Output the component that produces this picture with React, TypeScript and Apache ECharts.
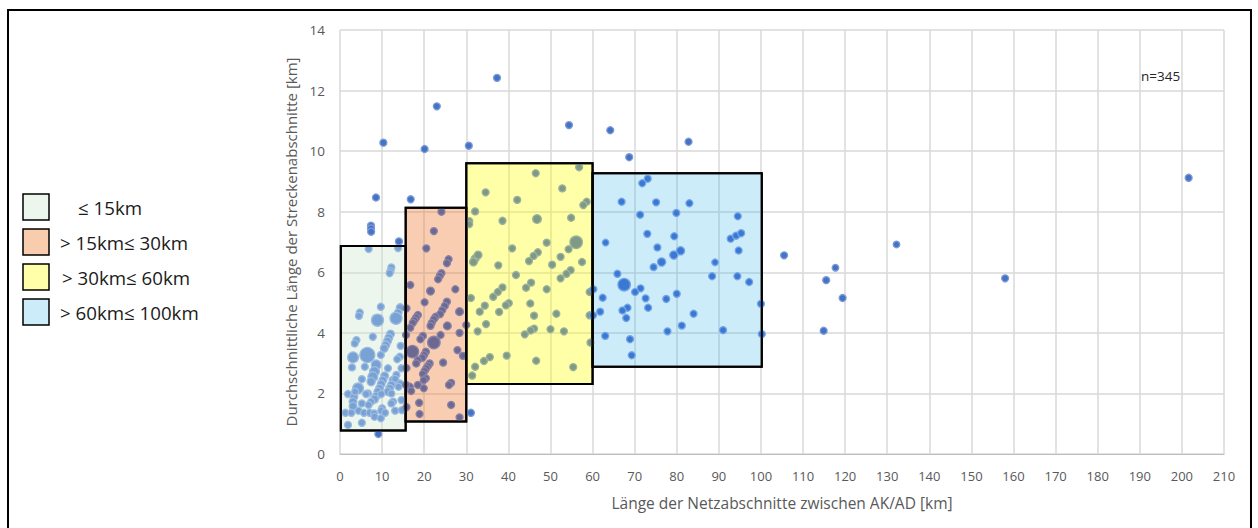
import React, { useEffect, useRef } from "react";
import * as echarts from "echarts";

// ---- Data ----
const legendLabels = ["≤ 15km", "> 15km≤ 30km", "> 30km≤ 60km", "> 60km≤ 100km"];
// Box ranges (x from/to, y from/to)
const boxX0 = [0.2, 15.6, 30.0, 60.0];
const boxX1 = [15.6, 30.0, 60.0, 100.2];
const boxY0 = [0.78, 1.07, 2.31, 2.88];
const boxY1 = [6.87, 8.13, 9.6, 9.27];

// points: [x, y, relativeSize]
const outerPoints = [
  [37.3, 12.42, 1], [23.0, 11.48, 1], [54.4, 10.86, 1], [64.2, 10.69, 1], [82.8, 10.31, 1],
  [10.3, 10.28, 1], [20.1, 10.07, 1], [30.6, 10.18, 1], [68.7, 9.8, 1], [8.55, 8.47, 1],
  [16.8, 8.41, 1], [7.36, 7.54, 1], [7.36, 7.45, 1], [7.4, 7.34, 1], [14.0, 7.02, 1],
  [9.1, 0.66, 1], [31.1, 1.36, 1], [105.5, 6.56, 1], [117.7, 6.15, 0.9], [115.5, 5.74, 1],
  [119.4, 5.15, 1], [114.9, 4.07, 1], [132.2, 6.92, 0.9], [158.0, 5.8, 1], [201.6, 9.12, 1],
];
const blueBoxPoints = [
  [73.1, 9.09, 1], [71.8, 8.94, 1], [66.9, 8.33, 1], [75.1, 8.31, 1], [83.0, 8.28, 1],
  [71.3, 7.9, 1], [79.9, 7.96, 1], [94.5, 7.85, 1], [73.0, 7.27, 1], [79.4, 7.19, 1],
  [92.8, 7.11, 1], [94.1, 7.21, 1], [95.3, 7.29, 1], [63.1, 6.98, 0.9], [75.4, 6.82, 1],
  [80.9, 6.71, 1.3], [79.3, 6.57, 1.3], [94.7, 6.72, 1], [76.4, 6.34, 1.3], [74.5, 6.17, 1],
  [89.1, 6.33, 0.9], [65.9, 5.95, 1], [88.4, 5.87, 1], [94.4, 5.87, 1], [97.2, 5.68, 1],
  [67.5, 5.59, 2.3], [60.2, 5.44, 1], [71.4, 5.47, 1], [70.1, 5.35, 1], [80.0, 5.29, 1],
  [62.4, 5.16, 1], [72.6, 5.14, 1], [77.5, 5.12, 1], [100.0, 4.96, 1], [68.3, 4.83, 1],
  [67.1, 4.74, 1], [73.2, 4.83, 1], [61.8, 4.7, 1], [68.0, 4.49, 1], [84.0, 4.63, 1],
  [81.2, 4.24, 1], [77.8, 4.05, 1], [91.0, 4.09, 1], [100.2, 3.96, 1], [63.0, 3.9, 1],
  [68.9, 3.79, 1], [69.3, 3.26, 1], [60.1, 4.58, 1],
];
const yellowBoxPoints = [
  [56.8, 9.47, 1], [46.5, 9.27, 1], [52.8, 8.77, 1], [34.6, 8.64, 1], [42.1, 8.39, 1],
  [58.6, 8.33, 1], [57.8, 8.22, 1], [32.1, 8.01, 1], [38.6, 7.7, 1], [46.8, 7.76, 1.4],
  [54.9, 7.8, 1], [30.7, 7.69, 1], [30.7, 7.59, 1], [49.1, 6.98, 1], [56.1, 6.99, 2.3],
  [40.9, 6.79, 1], [54.3, 6.76, 1], [52.4, 6.51, 1], [47.0, 6.66, 1], [46.0, 6.54, 1],
  [44.9, 6.37, 1], [32.1, 6.45, 1.2], [32.8, 6.57, 1.2], [31.7, 6.34, 1.2], [37.6, 6.23, 1],
  [50.4, 6.25, 1], [57.5, 6.34, 1], [41.8, 5.91, 1], [54.8, 6.07, 1], [53.8, 5.95, 1],
  [52.4, 5.8, 1], [45.4, 5.66, 1], [44.2, 5.49, 1], [38.6, 5.5, 1], [37.5, 5.35, 1],
  [36.4, 5.19, 1], [49.1, 5.44, 1], [31.1, 5.15, 1], [59.3, 5.35, 1], [40.1, 4.98, 1],
  [39.4, 4.91, 1], [34.4, 4.9, 1], [45.2, 4.97, 1], [33.2, 4.7, 1], [37.8, 4.69, 1],
  [51.4, 4.63, 1], [46.1, 4.57, 1], [59.3, 4.58, 1], [34.7, 4.29, 1], [46.1, 4.14, 1],
  [45.3, 4.08, 1], [32.7, 4.05, 1], [43.9, 3.95, 1], [50.0, 4.12, 1], [53.2, 4.05, 1],
  [59.5, 3.68, 1], [39.6, 3.25, 1], [46.6, 3.08, 1], [35.6, 3.2, 1], [34.2, 3.07, 1],
  [32.1, 2.88, 1], [31.4, 2.59, 1], [55.4, 2.87, 1],
];
const orangeBoxPoints = [
  [24.1, 8.0, 1], [22.3, 7.36, 1], [20.5, 6.79, 1], [25.8, 6.43, 1], [25.4, 6.3, 1],
  [24.1, 5.97, 1], [23.7, 5.88, 1], [23.3, 5.77, 1], [16.7, 5.58, 1], [21.5, 5.38, 1.2],
  [27.4, 5.44, 1], [20.1, 5.01, 1], [25.4, 5.03, 1], [24.9, 4.89, 1], [24.3, 4.75, 1],
  [23.8, 4.62, 1], [28.4, 4.7, 1.2], [18.5, 4.59, 1], [18.1, 4.51, 1], [17.7, 4.42, 1],
  [17.3, 4.33, 1], [22.7, 4.53, 1], [22.3, 4.45, 1], [21.8, 4.33, 1], [21.5, 4.23, 1],
  [16.7, 4.17, 1], [25.5, 4.23, 1.2], [30.0, 4.26, 1], [28.4, 4.0, 1], [19.7, 3.9, 1],
  [19.1, 3.79, 1], [23.9, 3.93, 1], [22.3, 3.68, 2.3], [17.2, 3.38, 2.3], [20.4, 3.38, 1],
  [20.0, 3.27, 1], [19.6, 3.18, 1], [18.5, 3.1, 1], [18.1, 2.99, 1], [27.9, 3.43, 1],
  [29.2, 3.24, 1], [24.5, 3.02, 1], [21.3, 2.99, 1], [20.9, 2.91, 1], [20.5, 2.83, 1],
  [20.1, 2.74, 1], [19.7, 2.64, 1], [20.4, 2.5, 1], [19.9, 2.44, 1], [18.5, 2.28, 1],
  [19.9, 2.17, 1], [16.6, 2.22, 1], [16.9, 2.08, 1], [26.4, 2.35, 1], [25.9, 2.28, 1],
  [18.8, 1.69, 1], [26.4, 1.62, 1], [18.9, 1.32, 1], [28.4, 1.21, 1], [15.8, 4.81, 1],
  [15.7, 3.93, 1], [15.8, 2.84, 1], [15.7, 2.28, 1], [15.8, 1.55, 1],
];
const greenBoxPoints = [
  [6.8, 6.77, 1], [13.8, 6.8, 1], [12.2, 6.16, 1], [12.0, 6.04, 1], [11.8, 5.97, 1],
  [9.7, 4.86, 1], [14.3, 4.83, 1.2], [13.8, 4.66, 1.2], [13.3, 4.48, 2.2], [4.7, 4.67, 1],
  [4.5, 4.56, 1], [8.9, 4.42, 2.2], [7.8, 3.87, 1], [12.0, 3.96, 1.2], [11.6, 3.84, 1.2],
  [11.3, 3.73, 1.2], [10.9, 3.6, 1.2], [10.5, 3.49, 1.2], [3.9, 3.76, 1], [3.5, 3.65, 1],
  [14.4, 3.57, 1], [6.5, 3.27, 2.9], [3.1, 3.19, 1.9], [2.85, 2.86, 1], [9.7, 3.27, 1],
  [14.2, 3.21, 1], [13.6, 3.13, 1], [5.9, 2.88, 1], [8.6, 2.94, 1.7], [8.2, 2.72, 1.7],
  [7.8, 2.55, 1.7], [7.4, 2.39, 1.3], [11.4, 2.83, 1], [13.4, 2.61, 1], [14.6, 2.83, 1],
  [5.2, 2.47, 1], [4.3, 2.17, 1.9], [10.6, 2.58, 1.2], [10.2, 2.44, 1.2], [9.8, 2.31, 1.2],
  [9.4, 2.17, 1.2], [9.0, 2.06, 1.2], [8.6, 1.91, 1.2], [8.2, 1.81, 1.2], [12.6, 2.44, 1.2],
  [12.2, 2.28, 1.2], [11.8, 2.17, 1.2], [11.4, 2.06, 1.2], [14.2, 2.33, 1], [13.9, 2.22, 1],
  [1.9, 1.98, 1], [6.65, 2.0, 1], [3.3, 1.89, 1.2], [3.1, 1.73, 1.2], [3.1, 1.58, 1.2],
  [5.2, 1.67, 1], [7.4, 1.73, 1], [6.8, 1.62, 1], [9.8, 1.98, 1], [12.2, 2.0, 1],
  [12.6, 1.73, 1], [12.2, 1.67, 1], [14.6, 1.78, 1], [10.0, 1.51, 1], [1.3, 1.36, 1],
  [2.7, 1.36, 1], [4.4, 1.43, 1], [5.7, 1.36, 1], [7.05, 1.36, 1], [8.1, 1.34, 1],
  [8.2, 1.23, 1], [9.8, 1.43, 1], [13.1, 1.43, 1], [14.7, 1.45, 1], [1.9, 0.96, 1],
  [5.2, 1.03, 1], [9.7, 1.18, 1], [10.7, 1.36, 1], [6.2, 1.98, 1], [13.1, 2.48, 1],
  [3.6, 2.06, 1],
];

const xMin = 0, xMax = 210, xStep = 10;
const yMin = 0, yMax = 14, yStep = 2;
const xAxisTitle = "Länge der Netzabschnitte zwischen AK/AD [km]";
const yAxisTitle = "Durchschnittliche Länge der Streckenabschnitte [km]";
const noteText = "n=345";

// ---- Styles ----
const boxFills = [
  "rgba(200,230,200,0.35)",
  "rgba(240,130,60,0.4)",
  "rgba(255,255,0,0.34)",
  "rgba(60,180,235,0.26)",
];
const legendFills = ["#ecf6ec", "#f8cdad", "#ffffaa", "#cdecf9"];
const pointFills = ["#78a2d4", "#6c6891", "#7f9a84", "#3a78d4", "#4472c4"];
const pointBorders = ["#9dbbe0", "#8a83a6", "#9db29c", "#74a5e6", "#7c9ad6"];
const FONT = "'Open Sans', 'Noto Sans', sans-serif";

function regionOf(p: number[]) {
  for (let i = 0; i < boxX0.length; i++) {
    if (p[0] >= boxX0[i] && p[0] <= boxX1[i] && p[1] >= boxY0[i] && p[1] <= boxY1[i]) return i;
  }
  return 4;
}

export default function App() {
  const ref = useRef<HTMLDivElement>(null);
  useEffect(() => {
    document.body.style.margin = "0";
    if (!ref.current) return;
    const chart = echarts.init(ref.current, undefined, { renderer: "svg" });
    const allPoints = [...outerPoints, ...blueBoxPoints, ...yellowBoxPoints, ...orangeBoxPoints, ...greenBoxPoints];
    const groups: number[][][] = [[], [], [], [], []];
    allPoints.forEach((p) => groups[regionOf(p)].push(p));

    const scatterSeries = groups.map((g, i) => ({
      type: "scatter",
      name: "g" + i,
      data: g,
      z: 3,
      symbolSize: (v: number[]) => 7 + ((v[2] ?? 1) - 1) * 4.2,
      itemStyle: { color: pointFills[i], borderColor: pointBorders[i], borderWidth: 1.3, opacity: 1 },
      emphasis: { disabled: true },
    }));

    const boxData = boxX0.map((x0, i) => [x0, boxY0[i], boxX1[i], boxY1[i], i]);

    const legendGraphics: any[] = [];
    const legendTop = [194, 229, 264, 299];
    const legendTextX = [78, 60, 62, 60];
    legendLabels.forEach((lab, i) => {
      legendGraphics.push({
        type: "rect",
        shape: { x: 23, y: legendTop[i], width: 26, height: 26 },
        style: { fill: legendFills[i], stroke: "#000", lineWidth: 1.5 },
        silent: true,
      });
      legendGraphics.push({
        type: "text",
        x: legendTextX[i],
        y: legendTop[i] + 13,
        style: { text: lab, fill: "#1a1a1a", font: `18.7px ${FONT}`, verticalAlign: "middle" },
        silent: true,
      });
    });

    chart.setOption({
      animation: false,
      backgroundColor: "#fff",
      grid: { left: 340, right: 34, top: 30, bottom: 74 },
      xAxis: {
        type: "value",
        min: xMin,
        max: xMax,
        interval: xStep,
        name: xAxisTitle,
        nameLocation: "middle",
        nameGap: 41,
        nameTextStyle: { color: "#595959", fontSize: 15.5, fontFamily: FONT },
        axisLine: { show: true, lineStyle: { color: "#bfbfbf", width: 1 } },
        axisTick: { show: false },
        axisLabel: { color: "#595959", fontSize: 13, fontFamily: FONT, margin: 15 },
        splitLine: { show: true, lineStyle: { color: "#d9d9d9", width: 1.5 } },
      },
      yAxis: {
        type: "value",
        min: yMin,
        max: yMax,
        interval: yStep,
        name: yAxisTitle,
        nameLocation: "middle",
        nameGap: 40,
        nameTextStyle: { color: "#595959", fontSize: 15, fontFamily: FONT },
        axisLine: { show: false },
        axisTick: { show: false },
        axisLabel: { color: "#595959", fontSize: 13.5, fontFamily: FONT, margin: 15 },
        splitLine: { show: true, lineStyle: { color: "#d9d9d9", width: 1.5 } },
      },
      series: [
        {
          type: "custom",
          z: 2,
          data: boxData,
          encode: { x: [0, 2], y: [1, 3] },
          renderItem: (params: any, api: any) => {
            const i = api.value(4);
            const p0 = api.coord([api.value(0), api.value(3)]);
            const p1 = api.coord([api.value(2), api.value(1)]);
            return {
              type: "rect",
              shape: { x: p0[0], y: p0[1], width: p1[0] - p0[0], height: p1[1] - p0[1] },
              style: { fill: boxFills[i], stroke: "#000", lineWidth: 2 },
            };
          },
          silent: true,
        },
        {
          type: "custom",
          z: 4,
          data: boxData,
          encode: { x: [0, 2], y: [1, 3] },
          renderItem: (params: any, api: any) => {
            const p0 = api.coord([api.value(0), api.value(3)]);
            const p1 = api.coord([api.value(2), api.value(1)]);
            return {
              type: "rect",
              shape: { x: p0[0], y: p0[1], width: p1[0] - p0[0], height: p1[1] - p0[1] },
              style: { fill: "none", stroke: "#000", lineWidth: 2 },
            };
          },
          silent: true,
        },
        ...scatterSeries,
      ],
      graphic: [
        {
          type: "rect",
          shape: { x: 8, y: 10, width: 1243, height: 530 },
          style: { fill: "none", stroke: "#000", lineWidth: 2 },
          silent: true,
        },
        {
          type: "text",
          x: 1141,
          y: 76,
          style: { text: noteText, fill: "#262626", font: `13.5px ${FONT}`, verticalAlign: "middle" },
          silent: true,
        },
        ...legendGraphics,
      ],
    });
    return () => chart.dispose();
  }, []);
  return <div ref={ref} style={{ width: 1258, height: 528 }} />;
}
